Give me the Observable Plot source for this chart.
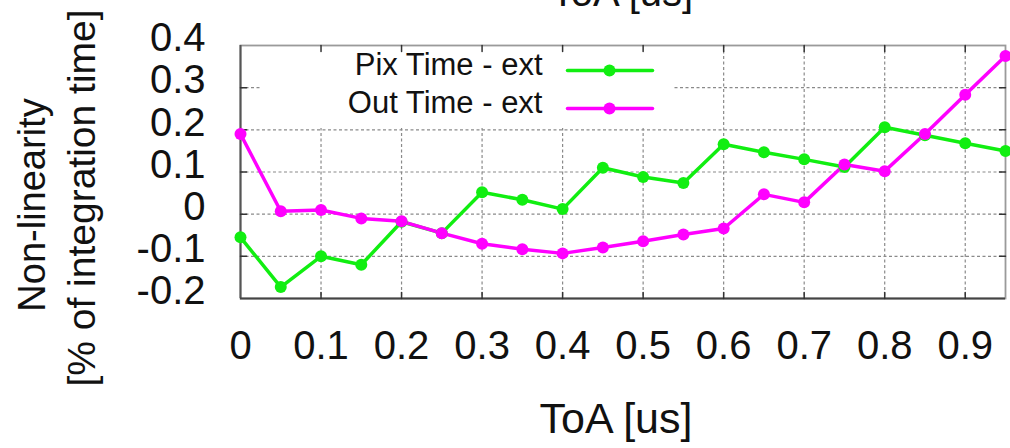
<!DOCTYPE html>
<html>
<head>
<meta charset="utf-8">
<script src="https://cdn.jsdelivr.net/npm/d3@7"></script>
<script src="https://cdn.jsdelivr.net/npm/@observablehq/plot@0.6"></script>
<style>
  html, body { margin: 0; padding: 0; background: #fff; }
  #chart { width: 1010px; height: 448px; overflow: hidden; }
  svg { font-family: "Liberation Sans", Arial, sans-serif; }
</style>
</head>
<body>
<div id="chart"></div>
<script>
// ---- data ----
const toa = [0, 0.05, 0.1, 0.15, 0.2, 0.25, 0.3, 0.35, 0.4, 0.45, 0.5, 0.55, 0.6, 0.65, 0.7, 0.75, 0.8, 0.85, 0.9, 0.95];
const pixTime = [-0.055, -0.173, -0.10, -0.12, -0.018, -0.045, 0.052, 0.034, 0.012, 0.11, 0.088, 0.074, 0.166, 0.147, 0.13, 0.112, 0.206, 0.187, 0.168, 0.15];
const outTime = [0.19, 0.007, 0.01, -0.01, -0.017, -0.045, -0.07, -0.083, -0.093, -0.079, -0.064, -0.048, -0.034, 0.047, 0.028, 0.118, 0.102, 0.19, 0.283, 0.375];
const seriesNames = ["Pix Time - ext", "Out Time - ext"];
const seriesColors = ["#11ee11", "#ff00ff"];
const xTicks = [0, 0.1, 0.2, 0.3, 0.4, 0.5, 0.6, 0.7, 0.8, 0.9];
const yTicks = [-0.2, -0.1, 0, 0.1, 0.2, 0.3, 0.4];
const xDomain = [0, 0.95];
const yDomain = [-0.2, 0.4];
const xTitle = "ToA [us]";
const yTitle1 = "Non-linearity";
const yTitle2 = "[% of integration time]";

const rows = [];
toa.forEach((t, i) => {
  rows.push({x: t, y: pixTime[i], s: seriesNames[0]});
  rows.push({x: t, y: outTime[i], s: seriesNames[1]});
});
const legend = seriesNames.map((name, i) => ({name, color: seriesColors[i], i}));

const tickShape = {draw(ctx, l) { ctx.moveTo(0, 0); ctx.lineTo(0, -l); }};
const hShape = {draw(ctx, l) { ctx.moveTo(0, 0); ctx.lineTo(l, 0); }};

const innerX = xTicks.filter(t => t > xDomain[0] && t < xDomain[1]);
const innerY = yTicks.filter(t => t > yDomain[0] && t < yDomain[1]);

const legendMarks = legend.flatMap((d, i) => [
  Plot.text([d], {text: "name", frameAnchor: "top-left", lineAnchor: "middle", dx: 302, dy: 20 + i * 38, textAnchor: "end", fontSize: 31, fill: "#111", letterSpacing: "0.9px"}),
  Plot.vector([d], {frameAnchor: "top-left", dx: 327, dy: 25 + i * 38, length: 85, rotate: 0, anchor: "start", shape: hShape, stroke: d.color, strokeWidth: 3.5}),
  Plot.dot([d], {frameAnchor: "top-left", dx: 369, dy: 25 + i * 38, r: 6, fill: d.color})
]);

const plot = Plot.plot({
  width: 1010,
  height: 448,
  marginLeft: 240,
  marginRight: 5,
  marginTop: 45,
  marginBottom: 150,
  x: {domain: xDomain, label: null},
  y: {domain: yDomain, label: null},
  color: {domain: seriesNames, range: seriesColors},
  marks: [
    // grid
    Plot.ruleX(innerX, {stroke: "#8a8a8a", strokeWidth: 1.2, strokeDasharray: "3,2.5"}),
    Plot.ruleY(innerY, {stroke: "#8a8a8a", strokeWidth: 1.2, strokeDasharray: "3,2.5"}),
    // opaque legend box
    Plot.rect([0], {fill: "white", insetLeft: 22, insetRight: 333, insetBottom: 170, insetTop: 1}),
    // frame
    Plot.frame({stroke: "#9a9a9a", strokeWidth: 1.8}),
    Plot.ruleX([xDomain[0]], {stroke: "#555", strokeWidth: 2}),
    Plot.ruleY([yDomain[0]], {stroke: "#444", strokeWidth: 2}),
    // inner ticks on all sides
    Plot.vector(innerX, {x: d => d, frameAnchor: "bottom", length: 6, rotate: 0, anchor: "start", shape: tickShape, stroke: "#333", strokeWidth: 1.5}),
    Plot.vector(innerX, {x: d => d, frameAnchor: "top", length: 6, rotate: 180, anchor: "start", shape: tickShape, stroke: "#333", strokeWidth: 1.5}),
    Plot.vector(innerY, {y: d => d, frameAnchor: "left", length: 6, rotate: 90, anchor: "start", shape: tickShape, stroke: "#333", strokeWidth: 1.5}),
    Plot.vector(innerY, {y: d => d, frameAnchor: "right", length: 6, rotate: -90, anchor: "start", shape: tickShape, stroke: "#333", strokeWidth: 1.5}),
    // axis labels
    Plot.axisX(xTicks, {anchor: "bottom", tickSize: 0, tickPadding: 0, dy: 32, fontSize: 40, fill: "#111", label: null, tickFormat: d => String(d)}),
    Plot.axisY(yTicks, {anchor: "left", tickSize: 0, tickPadding: 35, dy: -7, fontSize: 40, fill: "#111", label: null, tickFormat: d => String(d).replace("−", "-")}),
    // data
    Plot.line(rows, {x: "x", y: "y", z: "s", stroke: "s", strokeWidth: 3.5}),
    Plot.dot(rows, {x: "x", y: "y", fill: "s", r: 6}),
    // legend
    ...legendMarks
  ]
});

// titles inside the SVG
const svg = d3.select(plot);
svg.append("text").attr("x", 616).attr("y", 433).attr("text-anchor", "middle").attr("font-size", 43).attr("fill", "#111").text(xTitle);
svg.append("text").attr("x", 622).attr("y", 6).attr("text-anchor", "middle").attr("font-size", 40).attr("fill", "#111").text(xTitle);
svg.append("text").attr("transform", "translate(45,205) rotate(-90)").attr("text-anchor", "middle").attr("font-size", 38).attr("fill", "#111").text(yTitle1);
svg.append("text").attr("transform", "translate(95,198) rotate(-90)").attr("text-anchor", "middle").attr("font-size", 39).attr("fill", "#111").text(yTitle2);

document.getElementById("chart").appendChild(plot);
</script>
</body>
</html>
